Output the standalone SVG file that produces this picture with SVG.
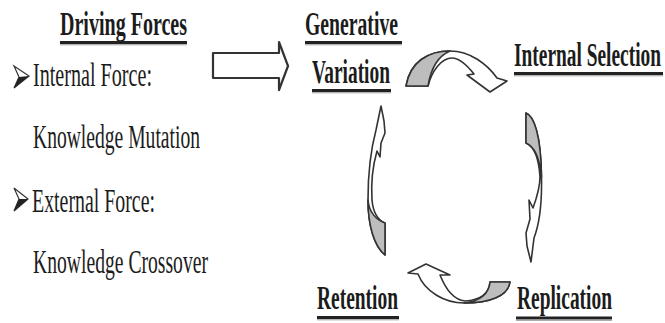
<svg xmlns="http://www.w3.org/2000/svg" width="665" height="323" viewBox="0 0 665 323">
<style>
text{font-family:"Liberation Serif","Times New Roman",serif;fill:#1c1c1c}
.b{font-weight:bold;font-size:34px}
.r{font-size:34px}
.ul{stroke:#222;stroke-width:3}
.ul2{stroke:#999;stroke-width:1}
.arr{fill:#fff;stroke:#333;stroke-width:1.6;stroke-linejoin:round}
.gr{fill:#bdbdbd;stroke:#333;stroke-width:1.6;stroke-linejoin:round}
.bul{fill:#fff;stroke:#333;stroke-width:1.2}
.buld{fill:#222}
</style>
<rect width="665" height="323" fill="#fff"/>
<g id="node-driving-forces">
<text class="b" x="60" y="35" textLength="127" lengthAdjust="spacingAndGlyphs">Driving Forces</text>
<line class="ul" x1="60" y1="42.5" x2="187" y2="42.5"/>
<line class="ul2" x1="60" y1="44.8" x2="187" y2="44.8"/>
<polygon class="bul" points="14,66 29,76 14,88 19,77"/>
<polygon class="buld" points="19,77 29,76 14,88"/>
<text class="r" x="33" y="86" textLength="119" lengthAdjust="spacingAndGlyphs">Internal Force:</text>
<text class="r" x="33" y="148" textLength="167" lengthAdjust="spacingAndGlyphs">Knowledge Mutation</text>
<polygon class="bul" points="14,188 28,199 14,211 19,199"/>
<polygon class="buld" points="19,199 28,199 14,211"/>
<text class="r" x="32" y="212" textLength="123" lengthAdjust="spacingAndGlyphs">External Force:</text>
<text class="r" x="33" y="273" textLength="175" lengthAdjust="spacingAndGlyphs">Knowledge Crossover</text>
</g>
<g id="node-generative-variation">
<text class="b" x="305" y="35" textLength="93" lengthAdjust="spacingAndGlyphs">Generative</text>
<line class="ul" x1="305" y1="42.5" x2="402" y2="42.5"/>
<line class="ul2" x1="305" y1="44.8" x2="402" y2="44.8"/>
<text class="b" x="312" y="83" textLength="78" lengthAdjust="spacingAndGlyphs">Variation</text>
<line class="ul" x1="312" y1="90.5" x2="391" y2="90.5"/>
<line class="ul2" x1="312" y1="92.8" x2="391" y2="92.8"/>
</g>
<g id="node-internal-selection">
<text class="b" x="514" y="66" textLength="147" lengthAdjust="spacingAndGlyphs">Internal Selection</text>
<line class="ul" x1="514" y1="73.5" x2="663" y2="73.5"/>
<line class="ul2" x1="514" y1="75.8" x2="663" y2="75.8"/>
</g>
<g id="node-replication">
<text class="b" x="517" y="309" textLength="95" lengthAdjust="spacingAndGlyphs">Replication</text>
<line class="ul" x1="516" y1="318" x2="612" y2="318"/>
<line class="ul2" x1="516" y1="320.3" x2="612" y2="320.3"/>
</g>
<g id="node-retention">
<text class="b" x="317" y="309" textLength="81" lengthAdjust="spacingAndGlyphs">Retention</text>
<line class="ul" x1="317" y1="317.5" x2="399" y2="317.5"/>
<line class="ul2" x1="317" y1="319.8" x2="399" y2="319.8"/>
</g>
<g id="connectors">
<path class="arr" d="M213,53 L279,53 L279,42 L288,66 L279,90 L279,78 L213,78 Z" style="stroke-width:2.2"/>
<path class="arr" d="M406,86 C410,62 428,51 450,51 C470,51 487,64 497,78 L507,81 L490,92 L467,75 L474,74 C466,64 458,58 452,58 C442,58 432,70 428,86 Z"/>
<path class="gr" d="M406,86 C410,62 428,51 450,51 C438,56 431,68 428,86 Z"/>
<path class="arr" d="M526,113 C534,116 541,135 541.5,177 C542,203 539,225 534,238 L531,262 L527,246 L526,233 L530,219 L529,200 L533,208 C537,197 540,188 540,177 C539,160 535,147 526,143 Z"/>
<path class="gr" d="M526,113 C534,116 541,135 541.5,177 C540,162 536,147 526,143 Z"/>
<path class="arr" d="M510,282 C508,296 490,303 464,303 C445,303 425,292 418,274 L408,273 L426,264 L450,275 L440,275 C446,290 455,300 465,301 C480,300 489,294 490,282 Z"/>
<path class="gr" d="M510,282 C508,296 490,303 464,303 C480,301 489,294 490,282 Z"/>
<path class="arr" d="M385,255 C374,246 368,225 368,200 C368,170 372,145 376,130 L381,106 L384,121 L385,133 L381,143 L380,157 L377,151 C373,165 371,185 372,200 C373,212 378,220 385,223 Z"/>
<path class="gr" d="M385,255 C374,246 368,225 368,200 C369,212 376,220 385,223 Z"/>
</g>
</svg>
